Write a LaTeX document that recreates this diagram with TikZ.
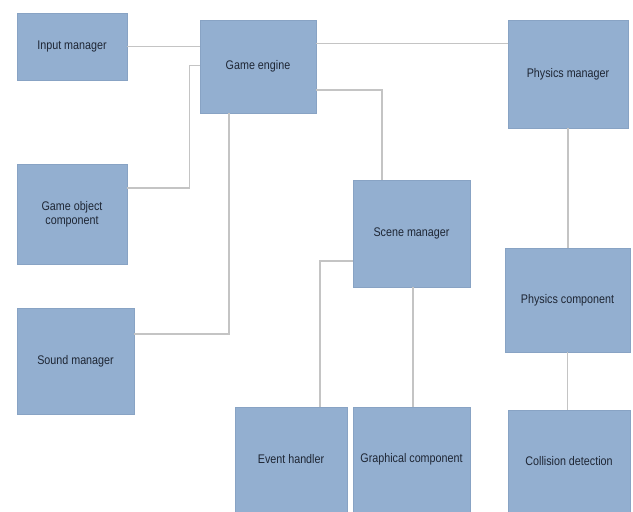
\documentclass[tikz,border=0pt]{standalone}
\usepackage{fontspec}
\setmainfont{Liberation Sans}[FakeStretch=0.86]
\usepackage{tikz}
\usepackage{xcolor}
\definecolor{boxblue}{RGB}{147,175,208}
\definecolor{boxedge}{RGB}{136,163,196}
\definecolor{linkgrey}{RGB}{196,196,196}
\definecolor{textdark}{RGB}{30,38,52}

\begin{document}
\begin{tikzpicture}[x=1pt,y=-1pt]
			\tikzstyle{every node}+=[inner sep=0pt]
			\tikzstyle{block}=[draw=boxedge,fill=boxblue,text=textdark,align=center,font=\fontsize{12.5}{14}\selectfont]
			\tikzstyle{link}=[draw=linkgrey,line width=1.3pt]
			\useasboundingbox [fill=white] (0,0) rectangle (633,512);
			\node[block,minimum width=110pt,minimum height=67pt] (input) at (72,46.5) {Input manager};
			\node[block,minimum width=116pt,minimum height=93pt] (engine) at (258,66.5) {Game engine};
			\node[block,minimum width=110pt,minimum height=100pt] (gobj) at (72,214) {Game object\\component};
			\node[block,minimum width=117pt,minimum height=106pt] (sound) at (75.5,361) {Sound manager};
			\node[block,minimum width=120pt,minimum height=108pt] (phys) at (568,74) {Physics manager};
			\node[block,minimum width=117pt,minimum height=107pt] (scene) at (411.5,233.5) {Scene manager};
			\node[block,minimum width=125pt,minimum height=104pt] (physc) at (567.5,300) {Physics component};
			\node[block,minimum width=112pt,minimum height=105pt] (event) at (291,459.5) {Event handler};
			\node[block,minimum width=117pt,minimum height=105pt] (graph) at (411.5,459.5) {Graphical component};
			\node[block,minimum width=122pt,minimum height=102pt] (coll) at (569,461) {Collision detection};
			\draw [link] (input.east) -- (input.east -| engine.west);
			\draw [link] ([yshift=-24pt]engine.north east) -- ([yshift=-24pt]engine.north east -| phys.west);
			\draw [link] ([yshift=26pt]gobj.east) -- ++(62,0) |- ([yshift=-46pt]engine.north west);
			\draw [link] ([yshift=27pt]sound.east) -| ([xshift=-29pt]engine.south);
			\draw [link] ([yshift=-23.5pt]engine.east) -| ([xshift=-29.5pt]scene.north);
			\draw [link] (phys.south) -- (phys.south |- physc.north);
			\draw [link] ([yshift=-27.5pt]scene.west) -| ([xshift=29pt]event.north);
			\draw [link] ([xshift=1.5pt]scene.south) -- ([xshift=1.5pt]graph.north);
			\draw [link] (physc.south) -- (physc.south |- coll.north);
		\end{tikzpicture}
\end{document}
